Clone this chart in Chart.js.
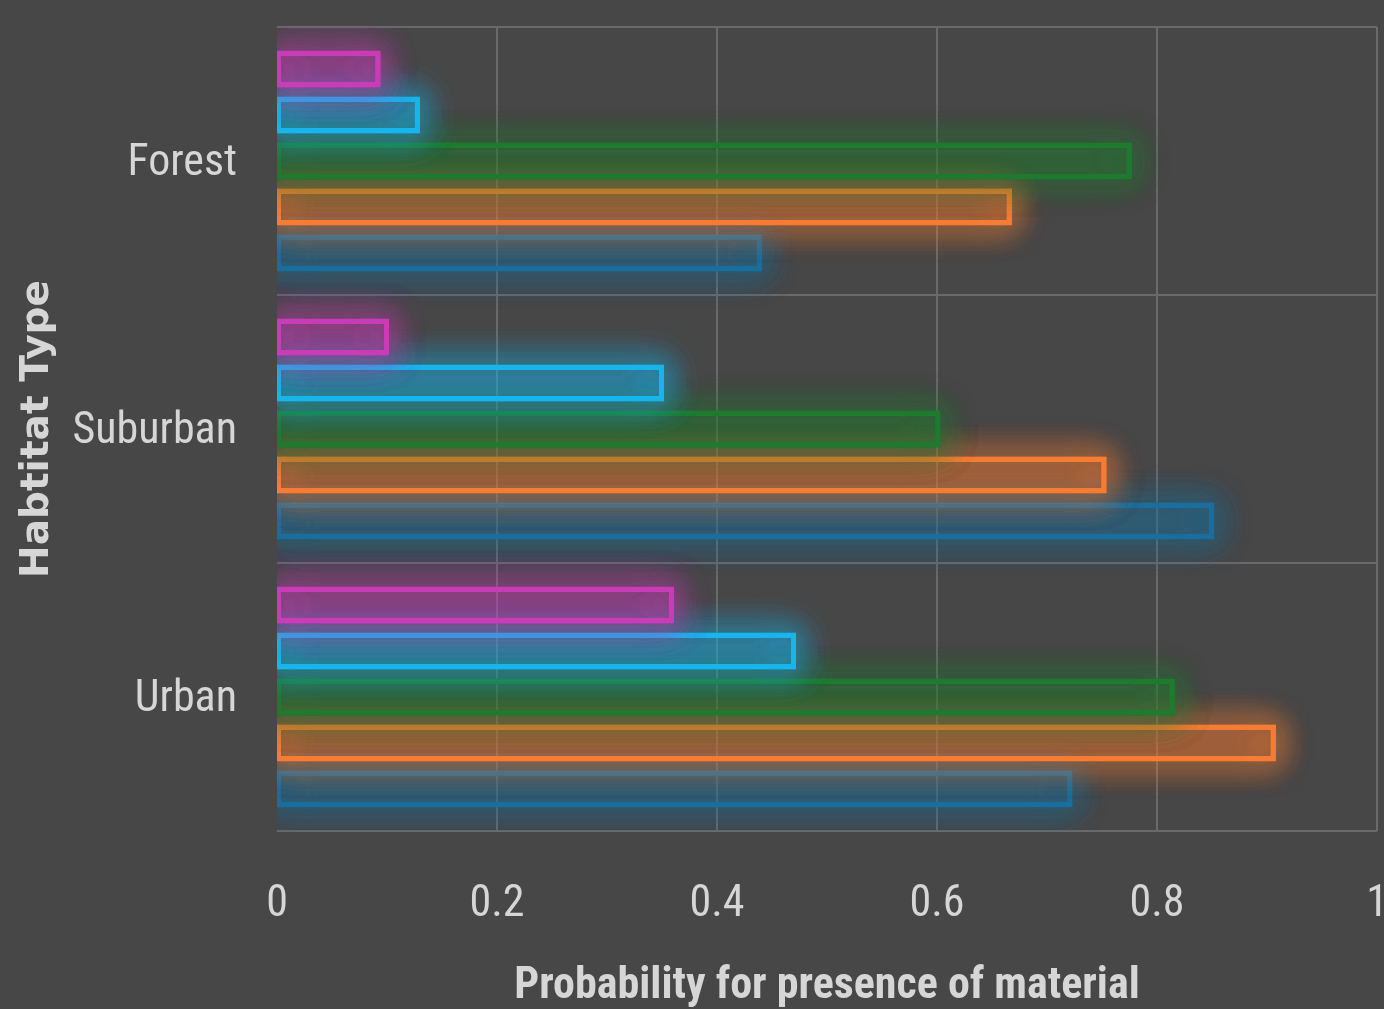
<!DOCTYPE html>
<html>
<head>
<meta charset="utf-8">
<script src="https://cdn.jsdelivr.net/npm/chart.js@4.4.1/dist/chart.umd.min.js"></script>
<style>
  html, body { margin: 0; padding: 0; background: #474747; overflow: hidden; }
  #wrap { position: relative; width: 1384px; height: 1009px; }
</style>
</head>
<body>
<div id="wrap"><canvas id="chart"></canvas></div>
<script>
// habitat categories, one group of bars each
const habitats = ["Forest", "Suburban", "Urban"];

// one series per material (top to bottom inside each group)
const seriesNames = ["Material 1", "Material 2", "Material 3", "Material 4", "Material 5"];
const material1 = [0.092, 0.100, 0.359];
const material2 = [0.128, 0.350, 0.470];
const material3 = [0.775, 0.601, 0.814];
const material4 = [0.666, 0.752, 0.906];
const material5 = [0.439, 0.850, 0.721];

const xTicks = [0, 0.2, 0.4, 0.6, 0.8, 1];

const lineColors = ["#c83cb8", "#18b4ec", "#1e7a2e", "#f57c32", "#1a6e9e"];
const fillColors = ["rgba(200,60,184,0.15)", "rgba(24,180,236,0.14)", "rgba(30,122,46,0.16)",
                    "rgba(245,124,50,0.15)", "rgba(26,110,158,0.16)"];

const values = [material1, material2, material3, material4, material5];
const textColor = "#d6d6d6";
const gridColor = "#6a6a6a";
const narrow = "'Roboto Condensed', Roboto, sans-serif";

// soft neon glow round every bar, drawn under the bar itself
const glowPlugin = {
  id: "glow",
  beforeDatasetDraw(chart, args) {
    const ctx = chart.ctx;
    const a = chart.chartArea;
    ctx.save();
    ctx.beginPath();
    ctx.rect(a.left, a.top, a.right - a.left, a.bottom - a.top);
    ctx.clip();
    ctx.strokeStyle = lineColors[args.index];
    ctx.lineWidth = 4;
    ctx.shadowColor = lineColors[args.index];
    ctx.shadowBlur = 32;
    args.meta.data.forEach(bar => {
      const p = bar.getProps(["x", "y", "base", "height"], true);
      for (let k = 0; k < 4; k++) {
        ctx.strokeRect(p.base, p.y - p.height / 2, p.x - p.base, p.height);
      }
    });
    ctx.restore();
  }
};

new Chart(document.getElementById("chart"), {
  type: "bar",
  data: {
    labels: habitats,
    datasets: seriesNames.map((name, i) => ({
      label: name,
      data: values[i],
      backgroundColor: fillColors[i],
      borderColor: lineColors[i],
      borderWidth: 3,
      borderSkipped: false,
      categoryPercentage: 0.858,
      barPercentage: 0.7
    }))
  },
  options: {
    indexAxis: "y",
    responsive: true,
    maintainAspectRatio: false,
    animation: false,
    layout: { padding: { top: 27, right: 7, left: 0, bottom: 0 } },
    plugins: { legend: { display: false }, tooltip: { enabled: false } },
    scales: {
      x: {
        min: 0,
        max: 1,
        afterBuildTicks: s => { s.ticks = xTicks.map(v => ({ value: v })); },
        afterFit: s => { s.paddingLeft = 0; s.paddingRight = 0; s.height = 178; },
        border: { display: false },
        grid: {
          color: c => c.tick && c.tick.value === 0 ? "rgba(0,0,0,0)" : gridColor,
          lineWidth: 2,
          drawTicks: false
        },
        ticks: {
          color: textColor,
          padding: 48,
          maxRotation: 0,
          callback: v => String(v),
          font: { family: narrow, size: 44, weight: "condensed" }
        },
        title: {
          display: true,
          text: "Probability for presence of material",
          color: textColor,
          padding: { top: 0, bottom: 0 },
          font: { family: narrow, size: 44, weight: "bold condensed", lineHeight: 1.0 }
        }
      },
      y: {
        afterFit: s => { s.width = 277; s.paddingTop = 0; s.paddingBottom = 0; },
        border: { display: false },
        grid: { color: gridColor, lineWidth: 2, drawTicks: false, offset: true },
        ticks: {
          color: textColor,
          padding: 40,
          labelOffset: 3,
          font: { family: narrow, size: 44, weight: "condensed" }
        },
        title: {
          display: true,
          text: "Habtitat Type",
          color: textColor,
          padding: { top: 18, bottom: 0 },
          font: { family: "'DejaVu Sans', sans-serif", size: 39, weight: "bold", lineHeight: 1.0 }
        }
      }
    }
  },
  plugins: [glowPlugin]
});
</script>
</body>
</html>
